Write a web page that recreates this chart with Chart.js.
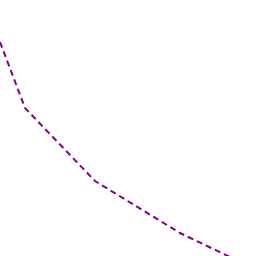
<!DOCTYPE html>
<html>
<head>
<meta charset="utf-8">
<script src="https://cdn.jsdelivr.net/npm/chart.js@4/dist/chart.umd.min.js"></script>
<style>
  html, body { margin: 0; padding: 0; background: #fff; }
  #wrap { width: 256px; height: 256px; }
</style>
</head>
<body>
<div id="wrap"><canvas id="chart"></canvas></div>
<script>
// values (x across, y upwards, both 0..256)
const xValues = [0, 25, 95, 180, 230];
const yValues = [214, 148, 75, 23, -1];

const points = xValues.map((x, i) => ({ x: x, y: yValues[i] }));

new Chart(document.getElementById('chart').getContext('2d'), {
    type: 'line',
    data: {
        datasets: [{
            data: points,
            borderColor: '#800080',
            borderWidth: 2,
            borderDash: [6, 4],
            pointRadius: 0,
            tension: 0,
            fill: false
        }]
    },
    options: {
        responsive: true,
        maintainAspectRatio: false,
        animation: false,
        layout: { padding: 0 },
        plugins: { legend: { display: false }, tooltip: { enabled: false } },
        scales: {
            x: { type: 'linear', min: 0, max: 256, display: false },
            y: { type: 'linear', min: 0, max: 256, display: false }
        }
    }
});
</script>
</body>
</html>
